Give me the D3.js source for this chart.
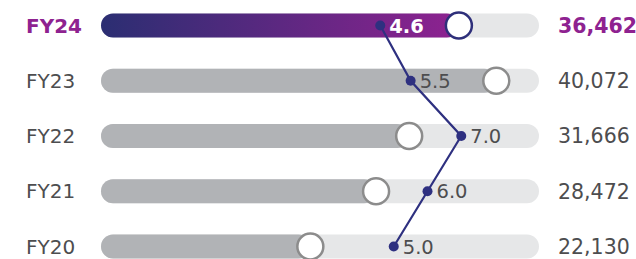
<!DOCTYPE html>
<html>
<head>
<meta charset="utf-8">
<script src="https://cdn.jsdelivr.net/npm/d3@7"></script>
<style>
  html, body { margin: 0; padding: 0; background: #fff; }
  svg { display: block; }
</style>
</head>
<body>
<svg id="chart" width="636" height="259"></svg>
<script>
// data
const years = ['FY24', 'FY23', 'FY22', 'FY21', 'FY20'];
const totals = [36462, 40072, 31666, 28472, 22130];
const rates = [4.6, 5.5, 7.0, 6.0, 5.0];

const width = 636, height = 259;
const svg = d3.select('#chart');
const font = '"DejaVu Sans", sans-serif';

// scales
const y = d3.scalePoint().domain(years).range([25.5, 246.5]);
const x = d3.scaleLinear().domain([0, 44000]).range([81, 537]);
const xr = d3.scaleLinear().domain([0, 10]).range([225, 562.5]);

const barLeft = 101, barRight = 539, barH = 24;

// gradient for current year
const defs = svg.append('defs');
const grad = defs.append('linearGradient')
  .attr('id', 'cur')
  .attr('gradientUnits', 'userSpaceOnUse')
  .attr('x1', barLeft).attr('x2', x(totals[0]))
  .attr('y1', 0).attr('y2', 0);
grad.append('stop').attr('offset', '0%').attr('stop-color', '#2b2e72');
grad.append('stop').attr('offset', '100%').attr('stop-color', '#8e2290');

const rows = svg.append('g').selectAll('g.row')
  .data(years.map((d, i) => ({ year: d, total: totals[i], rate: rates[i], i })))
  .enter().append('g').attr('class', 'row');

// track
rows.append('rect')
  .attr('x', barLeft).attr('y', d => y(d.year) - barH / 2)
  .attr('width', barRight - barLeft).attr('height', barH)
  .attr('rx', barH / 2)
  .attr('fill', '#e6e7e8');

// fill
rows.append('rect')
  .attr('x', barLeft).attr('y', d => y(d.year) - barH / 2)
  .attr('width', d => x(d.total) - barLeft).attr('height', barH)
  .attr('rx', barH / 2)
  .attr('fill', d => d.i === 0 ? 'url(#cur)' : '#b1b3b6');

// end knob
rows.append('circle')
  .attr('cx', d => x(d.total)).attr('cy', d => y(d.year))
  .attr('r', 13)
  .attr('fill', '#fff')
  .attr('stroke', d => d.i === 0 ? '#2e2f7a' : '#8c8c8c')
  .attr('stroke-width', 2.5);

// year labels
rows.append('text')
  .attr('x', 26).attr('y', d => y(d.year)).attr('dy', '0.36em')
  .attr('font-family', font).attr('font-size', 20)
  .attr('font-weight', d => d.i === 0 ? 'bold' : 'normal')
  .attr('fill', d => d.i === 0 ? '#8e2290' : '#4d4d4f')
  .text(d => d.year);

// totals
rows.append('text')
  .attr('x', 558).attr('y', d => y(d.year)).attr('dy', '0.36em')
  .attr('font-family', font).attr('font-size', 20.5)
  .attr('font-weight', d => d.i === 0 ? 'bold' : 'normal')
  .attr('fill', d => d.i === 0 ? '#8e2290' : '#4d4d4f')
  .text(d => d3.format(',')(d.total));

// rate line
const pts = years.map((d, i) => [xr(rates[i]), y(d)]);
svg.append('path')
  .attr('d', d3.line()(pts))
  .attr('fill', 'none')
  .attr('stroke', '#2e3080')
  .attr('stroke-width', 2.2);

svg.append('g').selectAll('circle')
  .data(pts).enter().append('circle')
  .attr('cx', d => d[0]).attr('cy', d => d[1])
  .attr('r', 5).attr('fill', '#2e3080');

svg.append('g').selectAll('text')
  .data(years.map((d, i) => ({ year: d, rate: rates[i], i })))
  .enter().append('text')
  .attr('x', d => xr(d.rate) + 9).attr('y', d => y(d.year)).attr('dy', '0.36em')
  .attr('font-family', font).attr('font-size', 19.5)
  .attr('font-weight', d => d.i === 0 ? 'bold' : 'normal')
  .attr('fill', d => d.i === 0 ? '#fff' : '#4d4d4f')
  .text(d => d3.format('.1f')(d.rate));
</script>
</body>
</html>
